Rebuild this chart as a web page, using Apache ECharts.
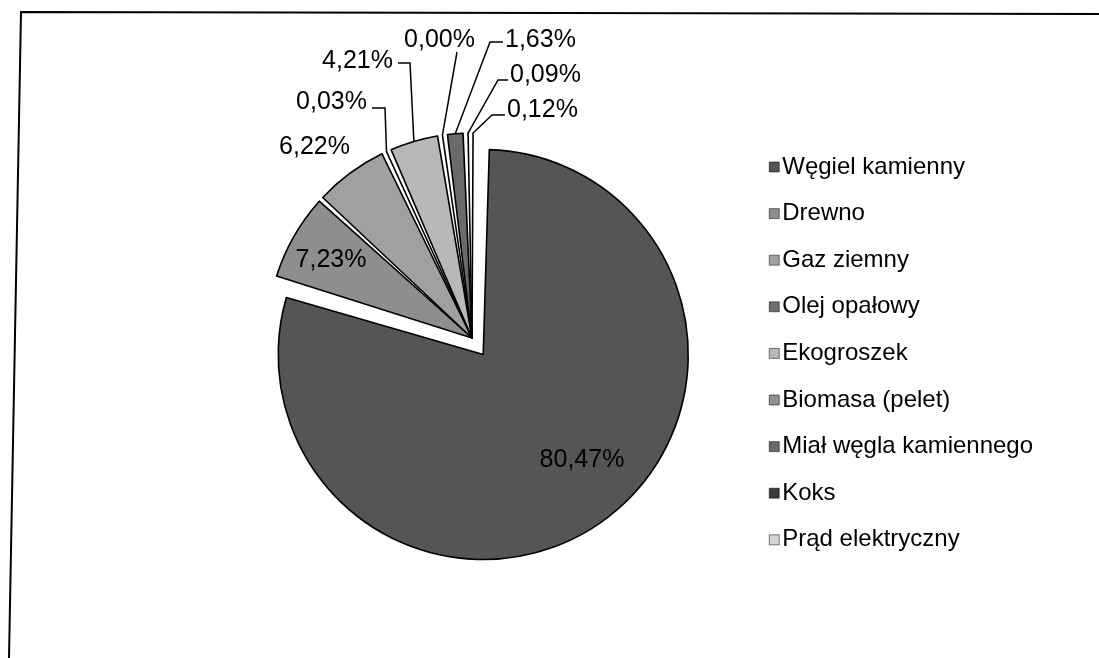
<!DOCTYPE html>
<html>
<head>
<meta charset="utf-8">
<title>Struktura paliw</title>
<script src="https://cdn.jsdelivr.net/npm/echarts@6/dist/echarts.min.js"></script>
<style>
  html, body { margin: 0; padding: 0; background: #fff; }
  #chart { width: 1099px; height: 658px; }
</style>
</head>
<body>
<div id="chart"></div>
<script>
// dane (udział w %)
const categories = [
  'Węgiel kamienny', 'Drewno', 'Gaz ziemny', 'Olej opałowy', 'Ekogroszek',
  'Biomasa (pelet)', 'Miał węgla kamiennego', 'Koks', 'Prąd elektryczny'
];
const shares = [80.47, 7.23, 6.22, 0.03, 4.21, 0.00, 1.63, 0.09, 0.12];
const grays = ['#555555', '#8e8e8e', '#a0a0a0', '#6e6e6e', '#b8b8b8', '#909090', '#6a6a6a', '#3a3a3a', '#d4d4d4'];

// gdzie stoją etykiety: [x, y, align, koniec linii x, y, załamanie x]
const labelSpots = [
  [582, 460, 'center'],
  [331, 260, 'center'],
  [350, 147, 'right'],
  [367, 102, 'right', 372, 108, 385],
  [393, 61, 'right', 398, 63, 410],
  [475, 40, 'right', 457, 52, 457],
  [505, 40, 'left', 503, 42, 490],
  [510, 75, 'left', 508, 80, 498],
  [507, 110, 'left', 505, 115, 492]
];

const pieCenter = [472, 338];
const startAngle = 89;
const explode = 20; // wysunięcie największego wycinka

const total = shares.reduce((a, b) => a + b, 0);
const midDeg = startAngle - 360 * shares[0] / total / 2;
const bigCenter = [
  pieCenter[0] + explode * Math.cos(midDeg * Math.PI / 180),
  pieCenter[1] - explode * Math.sin(midDeg * Math.PI / 180)
];

const chart = echarts.init(document.getElementById('chart'));

const hidden = { color: 'transparent', borderWidth: 0 };

// jedna seria z wysuniętym wycinkiem 0, druga z pozostałymi
function buildData(showIndex) {
  return categories.map((name, i) => {
    const visible = showIndex(i);
    return {
      name: name,
      value: shares[i],
      itemStyle: visible ? { color: grays[i] } : hidden,
      label: { show: visible },
      labelLine: { show: visible && labelSpots[i].length > 3 }
    };
  });
}

const baseSeries = {
  type: 'pie',
  radius: 205,
  startAngle: startAngle,
  clockwise: true,
  padAngle: 1.4,
  avoidLabelOverlap: false,
  emphasis: { disabled: true },
  itemStyle: { borderColor: '#000', borderWidth: 1.6 },
  label: {
    fontSize: 25,
    color: '#000',
    formatter: p => p.value.toFixed(2).replace('.', ',') + '%'
  },
  labelLine: { lineStyle: { color: '#000', width: 1.5 } },
  labelLayout: function (params) {
    const s = labelSpots[params.dataIndex];
    const out = { x: s[0], y: s[1], align: s[2], verticalAlign: 'middle' };
    if (s.length > 3 && params.labelLinePoints) {
      const start = params.labelLinePoints[0];
      out.labelLinePoints = [start, [s[5], s[4]], [s[3], s[4]]];
    }
    return out;
  }
};

chart.setOption({
  animation: false,
  textStyle: { fontFamily: 'Liberation Sans, Arial, sans-serif' },
  graphic: [{
    type: 'polyline',
    silent: true,
    shape: { points: [[9, 658], [21, 12], [1099, 14]] },
    style: { stroke: '#000', lineWidth: 2, fill: null }
  }],
  legend: {
    orient: 'vertical',
    left: 764,
    top: 148,
    itemWidth: 10,
    itemHeight: 10,
    itemGap: 18.6,
    icon: 'rect',
    selectedMode: false,
    textStyle: { fontSize: 24, lineHeight: 28, color: '#000', padding: [0, 0, 0, -2] },
    data: categories.map((name, i) => ({
      name: name,
      itemStyle: { color: grays[i], borderColor: '#000', borderWidth: 0.5 }
    }))
  },
  series: [
    Object.assign({}, baseSeries, {
      name: 'reszta',
      center: pieCenter,
      data: buildData(i => i !== 0)
    }),
    Object.assign({}, baseSeries, {
      name: 'węgiel',
      center: bigCenter,
      data: buildData(i => i === 0)
    })
  ]
});
</script>
</body>
</html>
